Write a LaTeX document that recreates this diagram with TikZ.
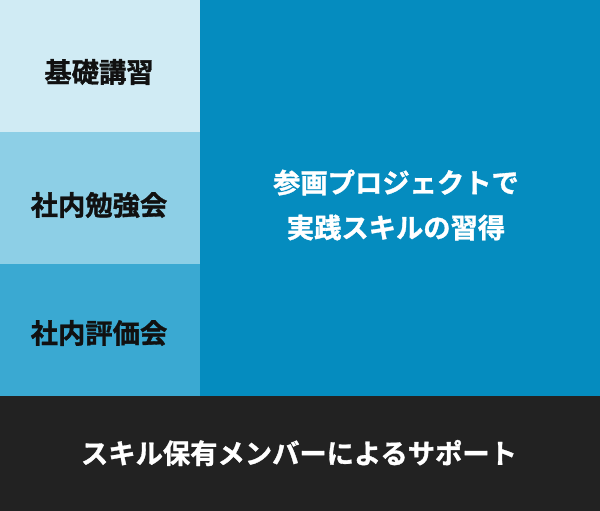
\documentclass[tikz,border=0pt]{standalone}
\usepackage{fontspec}
\newfontfamily\cjk[FakeBold=1.2]{Noto Sans CJK JP Bold}
\definecolor{rowA}{HTML}{D0EBF4}
\definecolor{rowB}{HTML}{8DCFE6}
\definecolor{rowC}{HTML}{3AA9D2}
\definecolor{mainblue}{HTML}{058CBF}
\definecolor{darkbar}{HTML}{222222}
\definecolor{inkdark}{HTML}{111111}
\tikzset{
  block/.style={inner sep=0pt, outer sep=0pt},
  lbl/.style={font=\cjk\fontsize{27.3}{27.3}\selectfont, inner sep=0pt, anchor=center},
}
\begin{document}
\begin{tikzpicture}[x=1pt,y=-1pt]
\useasboundingbox (0,0) rectangle (600,511);
\fill[rowA] (0,0) rectangle (200,132);
\fill[rowB] (0,132) rectangle (200,264);
\fill[rowC] (0,264) rectangle (200,396);
\fill[mainblue] (200,0) rectangle (600,396);
\fill[darkbar] (0,396) rectangle (600,511);
\node[lbl, text=inkdark] (t1) at (99,72) {基礎講習};
\node[lbl, text=inkdark] (t2) at (99,205) {社内勉強会};
\node[lbl, text=inkdark] (t3) at (99,333) {社内評価会};
\node[lbl, text=white, align=center, font=\cjk\fontsize{27.3}{45}\selectfont] (t4) at (396,205) {参画プロジェクトで\\実践スキルの習得};
\node[lbl, text=white] (t5) at (299,453) {スキル保有メンバーによるサポート};
\end{tikzpicture}
\end{document}
